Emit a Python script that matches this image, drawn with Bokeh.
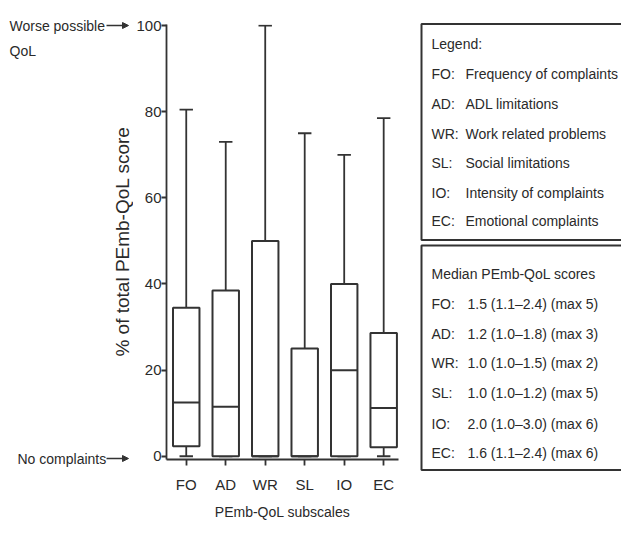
import math
from bokeh.plotting import figure
from bokeh.models import Range1d, FixedTicker, Arrow, NormalHead
from bokeh.layouts import row, column
from bokeh.embed import file_html
from bokeh.resources import INLINE
from bokeh.core.properties import value

# ---------------- data ----------------
categories = ["FO", "AD", "WR", "SL", "IO", "EC"]
whisker_low = [0, 0, 0, 0, 0, 0]
q1 = [2.3, 0, 0, 0, 0, 2.1]
median = [12.5, 11.5, 0, 0, 20, 11.2]
q3 = [34.5, 38.5, 50, 25, 40, 28.6]
whisker_high = [80.5, 73, 100, 75, 70, 78.5]
y_ticks = [0, 20, 40, 60, 80, 100]

y_title = "% of total PEmb-QoL score"
x_title = "PEmb-QoL subscales"
side_labels = ["Worse possible", "QoL", "No complaints"]

legend_title = "Legend:"
legend_abbr = ["FO:", "AD:", "WR:", "SL:", "IO:", "EC:"]
legend_desc = ["Frequency of complaints", "ADL limitations", "Work related problems",
               "Social limitations", "Intensity of complaints", "Emotional complaints"]
median_title = "Median PEmb-QoL scores"
median_text = ["1.5 (1.1\u20132.4) (max 5)", "1.2 (1.0\u20131.8) (max 3)",
               "1.0 (1.0\u20131.5) (max 2)", "1.0 (1.0\u20131.2) (max 5)",
               "2.0 (1.0\u20133.0) (max 6)", "1.6 (1.1\u20132.4) (max 6)"]

INK = "#333333"
TXT = "#2a2a2a"
FONT = "Liberation Sans"


def no_align(p):
    try:
        p.frame_align = False
    except Exception:
        pass


# ---------------- left annotation panel ----------------
W0 = 133
p0 = figure(width=W0, height=534, x_range=Range1d(0, W0), y_range=Range1d(534, 0),
            min_border=0, toolbar_location=None, output_backend="svg")
p0.axis.visible = False
p0.grid.visible = False
p0.outline_line_color = None
no_align(p0)

p0.text(x=[9, 9, 17], y=[25, 50, 458], text=side_labels, text_font=value(FONT),
        text_font_size="14px", text_color=TXT, text_baseline="middle")
for ty in (25, 458):
    p0.add_layout(Arrow(x_start=106, y_start=ty, x_end=128, y_end=ty,
                        line_color=INK, line_width=1.4,
                        end=NormalHead(size=6, fill_color=INK, line_color=INK)))
p0.text(x=[132], y=[241], text=[y_title], angle=math.pi / 2, text_font=value(FONT),
        text_font_size="19px", text_color=TXT, text_align="center", text_baseline="bottom")

# ---------------- box plot ----------------
p1 = figure(width=400 - W0, height=534, x_range=Range1d(-0.5, 5.375), y_range=Range1d(-0.75, 100.25),
            min_border_left=163 - W0, min_border_right=2, min_border_top=24, min_border_bottom=75,
            toolbar_location=None, output_backend="svg")
p1.outline_line_color = None
p1.grid.visible = False
no_align(p1)

x = list(range(len(categories)))
bw = 0.67
cw = 0.17

p1.segment(x0=x, y0=q3, x1=x, y1=whisker_high, line_color=INK, line_width=1.8)
p1.segment(x0=x, y0=whisker_low, x1=x, y1=q1, line_color=INK, line_width=1.8)
p1.segment(x0=[i - cw for i in x], y0=whisker_high, x1=[i + cw for i in x], y1=whisker_high,
           line_color=INK, line_width=1.8)
p1.segment(x0=[i - cw for i in x], y0=whisker_low, x1=[i + cw for i in x], y1=whisker_low,
           line_color=INK, line_width=1.8)
p1.vbar(x=x, bottom=q1, top=q3, width=bw, fill_color="white", line_color=INK, line_width=2)
p1.segment(x0=[i - bw / 2 for i in x], y0=median, x1=[i + bw / 2 for i in x], y1=median,
           line_color=INK, line_width=2)

p1.xaxis.ticker = FixedTicker(ticks=x)
p1.xaxis.major_label_overrides = {i: c for i, c in zip(x, categories)}
p1.xaxis.minor_tick_line_color = None
p1.xaxis.major_tick_in = 0
p1.xaxis.major_tick_out = 6
p1.xaxis.axis_label = x_title
p1.xaxis.major_label_standoff = 10
p1.xaxis.axis_label_standoff = 8

p1.yaxis.ticker = FixedTicker(ticks=y_ticks)
p1.yaxis.minor_tick_line_color = None
p1.yaxis.major_tick_in = 0
p1.yaxis.major_tick_out = 5
p1.yaxis.major_label_standoff = 0

for ax in (p1.xaxis[0], p1.yaxis[0]):
    ax.axis_line_color = INK
    ax.axis_line_width = 1.8
    ax.major_tick_line_color = INK
    ax.major_tick_line_width = 1.8
    ax.major_label_text_font = FONT
    ax.major_label_text_font_size = "15px"
    ax.major_label_text_color = TXT
    ax.axis_label_text_font = FONT
    ax.axis_label_text_font_style = "normal"
    ax.axis_label_text_font_size = "14px"
    ax.axis_label_text_color = TXT

# ---------------- legend panel ----------------
p2 = figure(width=221, height=534, x_range=Range1d(0, 221), y_range=Range1d(534, 0),
            min_border=0, toolbar_location=None, output_backend="svg")
p2.axis.visible = False
p2.grid.visible = False
p2.outline_line_color = None
no_align(p2)

p2.quad(left=[21, 21], right=[240, 240], top=[23.5, 245], bottom=[239.5, 469.5],
        fill_color=None, line_color=INK, line_width=2)

rows1 = [73, 103, 133, 162, 192, 220]
rows2 = [303, 333, 362, 392, 423, 452]
tstyle = dict(text_font=value(FONT), text_font_size="14px",
              text_color=TXT, text_baseline="middle")
p2.text(x=[31], y=[43], text=[legend_title], **tstyle)
p2.text(x=[31] * 6, y=rows1, text=legend_abbr, **tstyle)
p2.text(x=[65] * 6, y=rows1, text=legend_desc, **tstyle)
p2.text(x=[31], y=[273], text=[median_title], **tstyle)
p2.text(x=[31] * 6, y=rows2, text=legend_abbr, **tstyle)
p2.text(x=[67] * 6, y=rows2, text=median_text, **tstyle)

layout = row(p0, p1, column(p2))
open("out.html", "w").write(file_html(layout, INLINE))
